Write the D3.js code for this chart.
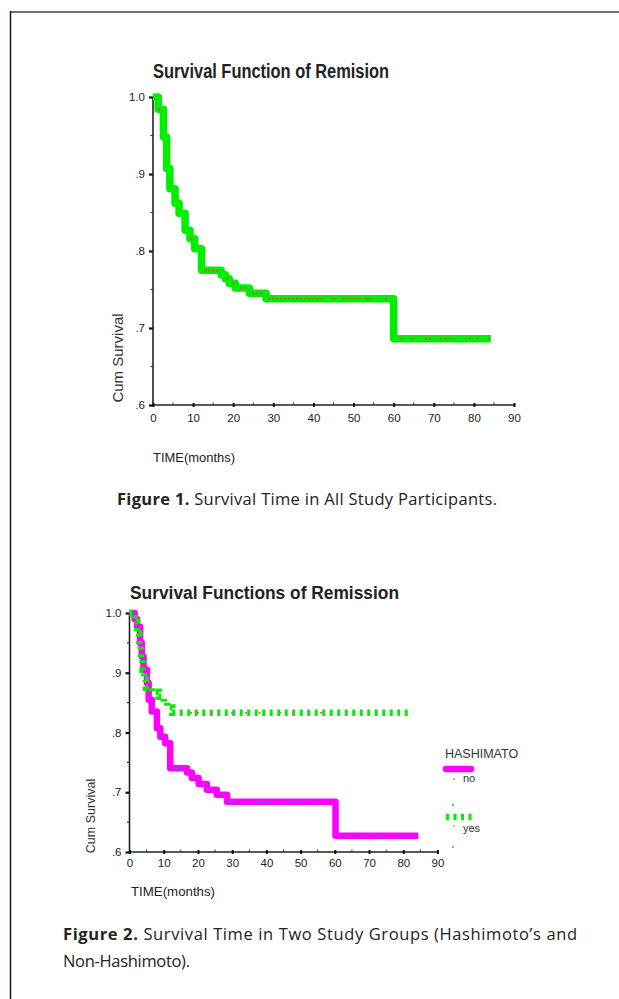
<!DOCTYPE html>
<html><head><meta charset="utf-8">
<script src="https://cdn.jsdelivr.net/npm/d3@7/dist/d3.min.js"></script>
<style>
html,body{margin:0;padding:0;background:#fff;}
svg{display:block;}
</style></head>
<body>
<svg id="fig" width="619" height="999"></svg>
<script>
// ---------- DATA ----------
const xTicks = [0,10,20,30,40,50,60,70,80,90];
const yTicks = [0.6,0.7,0.8,0.9,1.0];
const yTickLabels = [".6",".7",".8",".9","1.0"];

// Figure 1: all participants
const timesAll = [0, 1.3, 2.6, 3.4, 4.2, 5.5, 6.5, 8.0, 9.2, 10.4, 12.1, 17.0, 18.0, 19.0, 20.5, 24.0, 28.2, 60.0, 84.2];
const survAll  = [1.0, 0.984, 0.948, 0.907, 0.881, 0.862, 0.849, 0.827, 0.816, 0.803, 0.775, 0.769, 0.764, 0.758, 0.752, 0.745, 0.738, 0.686, 0.686];
const censAll  = [1.5, 9.5, 13, 14, 15, 16, 18.5, 20, 22, 23, 25, 26, 27, 29,30,31,32,33,34,35,36,37,38,39,40,41,42, 45, 47.5,48.5,49.5,50.5,51.5, 53.2,54, 58, 62, 64.7, 68, 69, 71.8, 73, 74, 79, 81, 83.9];

// Figure 2: HASHIMATO = no
const timesNo = [0, 1.5, 2.2, 3.1, 3.6, 4.1, 5.1, 5.6, 6.5, 8.0, 9.0, 10.4, 11.9, 16.8, 18.2, 20.2, 22.6, 25.5, 28.5, 60.2, 84.4];
const survNo  = [1.0, 0.99, 0.977, 0.95, 0.927, 0.905, 0.883, 0.855, 0.835, 0.807, 0.793, 0.782, 0.740, 0.733, 0.724, 0.714, 0.704, 0.696, 0.684, 0.627, 0.627];
const censNo  = [1, 7, 9.5, 13, 14, 15, 19, 23, 26, 29, 30, 31, 35, 37, 38, 39, 40, 41, 44, 47, 49, 50, 51, 53.5, 63, 65, 68.3, 69.5, 72.7, 73.9, 79, 81.2];

// Figure 2: HASHIMATO = yes
const timesYes = [0, 1.5, 2.2, 2.8, 3.3, 3.8, 4.3, 4.8, 6.5, 8.5, 10.0, 11.0, 12.5, 82.0];
const survYes  = [1.0, 0.985, 0.965, 0.945, 0.925, 0.905, 0.888, 0.875, 0.868, 0.860, 0.850, 0.842, 0.833, 0.833];
const censYes  = [2, 5.5, 15, 18, 20, 24, 30, 34, 38, 44, 48, 56];

const legendTitle = "HASHIMATO";
const legendLabels = ["no", "yes"];

// ---------- DRAW ----------
const svg = d3.select("#fig");
const SANS = "Liberation Sans, Arial, sans-serif";
const CAP = "'Open Sans', Lato, sans-serif";

// page frame
svg.append("line").attr("x1",10).attr("x2",619).attr("y1",12).attr("y2",12)
  .attr("stroke","#7d7070").attr("stroke-width",2);
svg.append("line").attr("x1",10.5).attr("x2",10.5).attr("y1",11).attr("y2",999)
  .attr("stroke","#2e1515").attr("stroke-width",1.5);

function stepAt(times, surv, t){
  let v = surv[0];
  for (let i=0;i<times.length;i++){ if (times[i] <= t) v = surv[i]; }
  return v;
}

function drawAxes(g, x, y, o){
  g.append("line").attr("x1",x(0)).attr("x2",x(0)).attr("y1",y(1.0)).attr("y2",y(0.6))
    .attr("stroke","#222").attr("stroke-width",1.6);
  g.append("line").attr("x1",x(0)).attr("x2",x(90)).attr("y1",y(0.6)).attr("y2",y(0.6))
    .attr("stroke","#222").attr("stroke-width",1.6);
  const xa = d3.axisBottom(x).tickValues(xTicks).tickSize(3).tickPadding(o.xPad).tickFormat(d=>d);
  const gx = g.append("g").attr("transform",`translate(0,${y(0.6)})`).call(xa);
  gx.select(".domain").remove();
  gx.selectAll(".tick line").attr("stroke","#111").attr("stroke-width",2).attr("y1",-2).attr("y2",2);
  gx.selectAll(".tick text").attr("font-family",SANS).attr("font-size",o.tickFont).attr("fill","#222");
  const minorX = d3.range(5,90,10);
  g.selectAll(null).data(minorX).join("line")
    .attr("x1",d=>x(d)).attr("x2",d=>x(d)).attr("y1",y(0.6)-2.5).attr("y2",y(0.6))
    .attr("stroke","#333").attr("stroke-width",1);
  const ya = d3.axisLeft(y).tickValues(yTicks).tickSize(4).tickPadding(o.yPad)
    .tickFormat((d,i)=>yTickLabels[i]);
  const gy = g.append("g").attr("transform",`translate(${x(0)},0)`).call(ya);
  gy.select(".domain").remove();
  gy.selectAll(".tick line").attr("stroke","#111").attr("stroke-width",2.2);
  gy.selectAll(".tick text").attr("font-family",SANS).attr("font-size",o.tickFont).attr("fill","#222");
  const minorY = [0.65,0.75,0.85,0.95];
  g.selectAll(null).data(minorY).join("line")
    .attr("x1",x(0)-2.5).attr("x2",x(0)).attr("y1",d=>y(d)).attr("y2",d=>y(d))
    .attr("stroke","#333").attr("stroke-width",1.2);
}

function stepLine(x,y,times,surv){
  const pts = times.map((t,i)=>[t,surv[i]]);
  return d3.line().x(d=>x(d[0])).y(d=>y(d[1])).curve(d3.curveStepAfter)(pts);
}

// ----- Figure 1 -----
{
  const x = d3.scaleLinear().domain([0,90]).range([153,514]);
  const y = d3.scaleLinear().domain([0.6,1.0]).range([405,97]);
  const g = svg.append("g");
  g.append("text").attr("x",153).attr("y",78).attr("font-family",SANS).attr("font-weight","bold")
    .attr("font-size",20).attr("fill","#222").attr("textLength",236).attr("lengthAdjust","spacingAndGlyphs")
    .text("Survival Function of Remision");
  drawAxes(g,x,y,{xPad:6,yPad:4,tickFont:11.5});
  g.append("path").attr("d",stepLine(x,y,timesAll,survAll)).attr("fill","none")
    .attr("stroke","#00ee00").attr("stroke-width",7.5).attr("stroke-linejoin","round");
  g.selectAll(null).data(censAll).join("rect")
    .attr("x",d=>x(d)-1).attr("y",d=>y(stepAt(timesAll,survAll,d))-1).attr("width",2).attr("height",2)
    .attr("fill","#e05050");
  g.append("text").attr("transform",`translate(123,358) rotate(-90)`).attr("text-anchor","middle")
    .attr("font-family",SANS).attr("font-size",15).attr("fill","#333")
    .text("Cum Survival");
  g.append("text").attr("x",153).attr("y",462).attr("font-family",SANS)
    .attr("font-size",13.5).attr("fill","#222").attr("textLength",82).attr("lengthAdjust","spacingAndGlyphs")
    .text("TIME(months)");
}

// ----- Figure 2 -----
{
  const x = d3.scaleLinear().domain([0,90]).range([129.5,437.5]);
  const y = d3.scaleLinear().domain([0.6,1.0]).range([852,613]);
  const g = svg.append("g");
  g.append("text").attr("x",130).attr("y",599).attr("font-family",SANS)
    .attr("font-size",17.5).attr("font-weight","bold").attr("fill","#222").attr("textLength",269).attr("lengthAdjust","spacingAndGlyphs")
    .text("Survival Functions of Remission");
  drawAxes(g,x,y,{xPad:4,yPad:4,tickFont:11.5});
  g.append("path").attr("d",stepLine(x,y,timesNo,survNo)).attr("fill","none")
    .attr("stroke","#ff00ff").attr("stroke-width",6.5).attr("stroke-linejoin","round");
  g.selectAll(null).data(censNo).join("rect")
    .attr("x",d=>x(d)-1).attr("y",d=>y(stepAt(timesNo,survNo,d))-1).attr("width",2).attr("height",2)
    .attr("fill","#6060e0");
  g.append("path").attr("d",stepLine(x,y,timesYes,survYes)).attr("fill","none")
    .attr("stroke","#00ee00").attr("stroke-width",6.5).attr("stroke-dasharray","3,4.5");
  g.selectAll(null).data(censYes).join("rect")
    .attr("x",d=>x(d)-1).attr("y",d=>y(stepAt(timesYes,survYes,d))-1).attr("width",2).attr("height",2)
    .attr("fill","#e06060");
  g.append("text").attr("transform",`translate(95,816) rotate(-90)`).attr("text-anchor","middle")
    .attr("font-family",SANS).attr("font-size",12.5).attr("fill","#333")
    .text("Cum Survival");
  g.append("text").attr("x",131).attr("y",896).attr("font-family",SANS)
    .attr("font-size",13).attr("fill","#222").attr("textLength",84).attr("lengthAdjust","spacingAndGlyphs")
    .text("TIME(months)");
  const lg = g.append("g");
  lg.append("text").attr("x",445).attr("y",758).attr("font-family",SANS)
    .attr("font-size",12.5).attr("fill","#333").text(legendTitle);
  lg.append("line").attr("x1",446).attr("x2",471).attr("y1",769).attr("y2",769)
    .attr("stroke","#ff00ff").attr("stroke-width",6.5).attr("stroke-linecap","round");
  lg.append("rect").attr("x",453).attr("y",778).attr("width",2).attr("height",2).attr("fill","#ee88ee");
  lg.append("text").attr("x",463).attr("y",782).attr("font-family",SANS)
    .attr("font-size",11).attr("fill","#333").text(legendLabels[0]);
  lg.append("rect").attr("x",452).attr("y",804).attr("width",2).attr("height",2).attr("fill","#8888ee");
  lg.append("line").attr("x1",446).attr("x2",473).attr("y1",817).attr("y2",817)
    .attr("stroke","#00ee00").attr("stroke-width",6.5).attr("stroke-dasharray","3,4.5");
  lg.append("rect").attr("x",453).attr("y",825).attr("width",2).attr("height",2).attr("fill","#88ee88");
  lg.append("text").attr("x",463).attr("y",832).attr("font-family",SANS)
    .attr("font-size",11).attr("fill","#333").text(legendLabels[1]);
  lg.append("rect").attr("x",452).attr("y",846).attr("width",2).attr("height",2).attr("fill","#ee8888");
}

// ----- Captions -----
const cap1 = svg.append("text").attr("x",117).attr("y",505)
  .attr("font-family",CAP).attr("font-size",16.5).attr("fill","#222")
  .attr("textLength",380).attr("lengthAdjust","spacing");
cap1.append("tspan").attr("font-weight","bold").text("Figure 1.");
cap1.append("tspan").text(" Survival Time in All Study Participants.");

const cap2 = svg.append("text").attr("x",63).attr("y",940)
  .attr("font-family",CAP).attr("font-size",16.5).attr("fill","#222")
  .attr("textLength",514).attr("lengthAdjust","spacing");
cap2.append("tspan").attr("font-weight","bold").text("Figure 2.");
cap2.append("tspan").text(" Survival Time in Two Study Groups (Hashimoto’s and");
svg.append("text").attr("x",63).attr("y",967)
  .attr("font-family",CAP).attr("font-size",16.5).attr("fill","#222")
  .attr("textLength",127).attr("lengthAdjust","spacing")
  .text("Non-Hashimoto).");
</script>
</body></html>
